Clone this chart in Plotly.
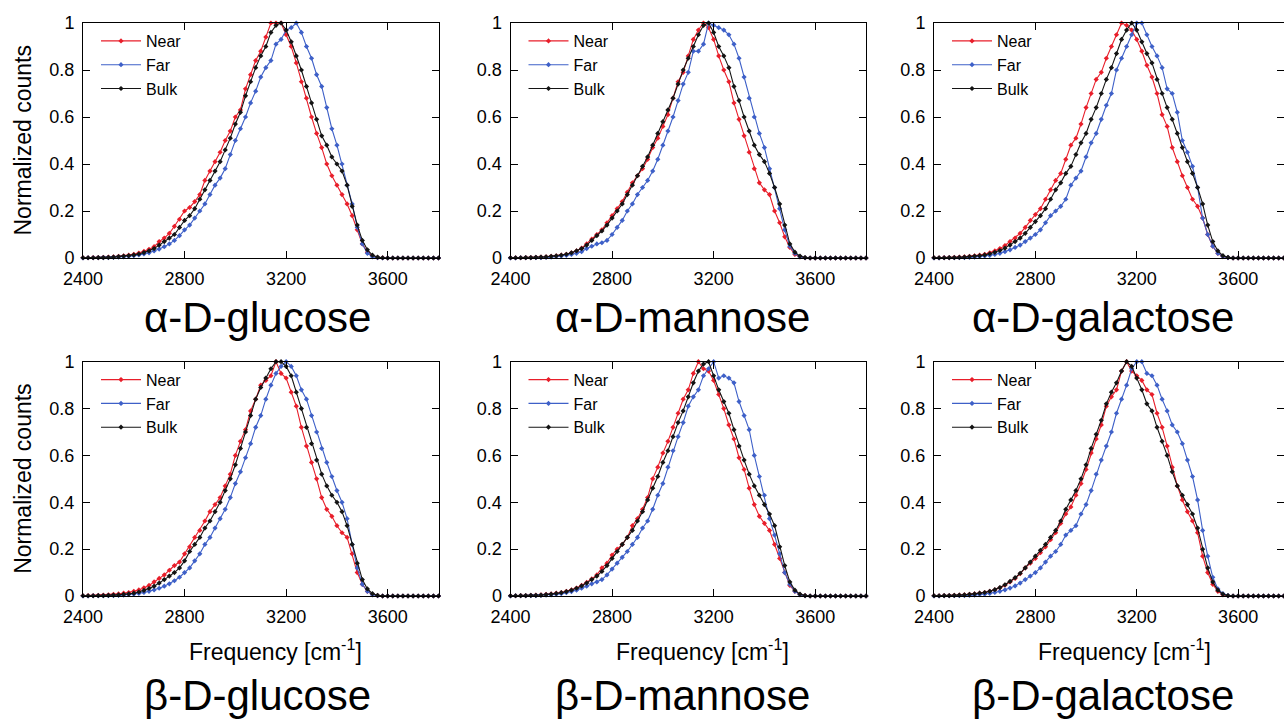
import plotly.graph_objects as go

# ---------------- data ----------------
FREQ = list(range(2400, 3801, 20))  # cm^-1, 71 points

PANEL_TITLES = ["α-D-glucose", "α-D-mannose", "α-D-galactose",
                "β-D-glucose", "β-D-mannose", "β-D-galactose"]
SERIES_NAMES = ["Near", "Far", "Bulk"]
X_TICKS = [2400, 2800, 3200, 3600]
Y_TICKS = [0, 0.2, 0.4, 0.6, 0.8, 1]
Z11 = [0] * 11

NEAR_AGLC = [0.001,0.001,0.002,0.002,0.003,0.004,0.005,0.007,0.009,0.012,
             0.016,0.021,0.028,0.037,0.048,0.07,0.085,0.105,0.135,0.165,
             0.2,0.215,0.24,0.27,0.33,0.37,0.41,0.45,0.5,0.54,
             0.6,0.63,0.72,0.78,0.84,0.88,0.94,1.0,1.0,1.0,
             0.95,0.9,0.83,0.75,0.68,0.6,0.53,0.47,0.4,0.35,
             0.31,0.27,0.23,0.18,0.12,0.06,0.025,0.008,0.002,0.001] + Z11
FAR_AGLC = [0.0,0.001,0.001,0.001,0.002,0.002,0.003,0.004,0.005,0.007,
            0.01,0.013,0.017,0.022,0.03,0.038,0.048,0.06,0.075,0.095,
            0.12,0.14,0.17,0.2,0.23,0.27,0.31,0.34,0.38,0.44,
            0.5,0.55,0.6,0.66,0.71,0.77,0.81,0.84,0.91,0.93,
            0.97,0.98,1.0,0.96,0.9,0.85,0.78,0.73,0.64,0.55,
            0.48,0.4,0.31,0.23,0.13,0.06,0.02,0.005,0.001,0.0] + Z11
BULK_AGLC = [0.001,0.001,0.001,0.002,0.002,0.003,0.004,0.006,0.008,0.01,
             0.013,0.017,0.023,0.03,0.04,0.055,0.07,0.085,0.1,0.13,
             0.16,0.18,0.21,0.25,0.29,0.33,0.37,0.41,0.46,0.51,
             0.57,0.62,0.69,0.75,0.81,0.86,0.9,0.96,0.99,1.0,
             0.97,0.92,0.86,0.8,0.73,0.66,0.59,0.52,0.48,0.43,
             0.4,0.37,0.31,0.22,0.14,0.075,0.035,0.012,0.004,0.001] + Z11

NEAR_AMAN = [0.001,0.001,0.001,0.002,0.002,0.003,0.004,0.005,0.007,0.009,
             0.012,0.016,0.022,0.03,0.042,0.06,0.08,0.1,0.12,0.15,
             0.18,0.21,0.24,0.28,0.32,0.35,0.38,0.42,0.47,0.51,
             0.56,0.61,0.68,0.75,0.79,0.86,0.93,0.97,1.0,0.98,
             0.93,0.86,0.8,0.75,0.66,0.59,0.52,0.45,0.38,0.32,
             0.29,0.27,0.2,0.15,0.09,0.045,0.015,0.005,0.001,0.0] + Z11
FAR_AMAN = [0.0,0.0,0.001,0.001,0.001,0.002,0.002,0.003,0.004,0.006,
            0.008,0.011,0.015,0.02,0.027,0.04,0.05,0.06,0.065,0.075,
            0.1,0.13,0.16,0.2,0.23,0.27,0.3,0.33,0.37,0.42,
            0.48,0.54,0.6,0.67,0.74,0.79,0.88,0.88,0.91,1.0,
            0.99,0.98,0.97,0.95,0.91,0.85,0.77,0.68,0.6,0.53,
            0.47,0.38,0.3,0.21,0.12,0.05,0.02,0.005,0.001,0.0] + Z11
BULK_AMAN = [0.001,0.001,0.001,0.002,0.002,0.003,0.004,0.005,0.007,0.009,
             0.012,0.016,0.022,0.03,0.04,0.055,0.075,0.095,0.115,0.14,
             0.17,0.2,0.23,0.27,0.31,0.35,0.39,0.43,0.48,0.53,
             0.58,0.63,0.68,0.74,0.8,0.85,0.9,0.95,0.99,1.0,
             0.96,0.9,0.86,0.81,0.73,0.67,0.6,0.54,0.48,0.44,
             0.41,0.36,0.3,0.23,0.14,0.06,0.025,0.008,0.002,0.0] + Z11

NEAR_AGAL = [0.001,0.001,0.002,0.002,0.003,0.004,0.005,0.007,0.009,0.012,
             0.016,0.022,0.03,0.04,0.053,0.07,0.085,0.105,0.13,0.16,
             0.185,0.21,0.25,0.29,0.33,0.36,0.42,0.48,0.51,0.57,
             0.64,0.7,0.76,0.79,0.85,0.9,0.95,1.0,0.99,0.97,
             0.93,0.88,0.82,0.77,0.7,0.61,0.56,0.47,0.41,0.35,
             0.3,0.25,0.22,0.17,0.1,0.05,0.02,0.006,0.002,0.0] + Z11
FAR_AGAL = [0.0,0.0,0.001,0.001,0.001,0.002,0.002,0.003,0.004,0.006,
            0.008,0.011,0.015,0.02,0.027,0.035,0.045,0.055,0.07,0.085,
            0.1,0.12,0.15,0.18,0.2,0.22,0.25,0.31,0.34,0.37,
            0.43,0.49,0.53,0.59,0.65,0.7,0.8,0.85,0.9,0.95,
            1.0,1.0,0.95,0.9,0.86,0.81,0.72,0.7,0.62,0.5,
            0.45,0.39,0.3,0.17,0.1,0.05,0.02,0.006,0.002,0.0] + Z11
BULK_AGAL = [0.001,0.001,0.001,0.002,0.002,0.003,0.004,0.006,0.008,0.01,
             0.013,0.018,0.024,0.032,0.042,0.055,0.07,0.085,0.105,0.13,
             0.155,0.18,0.21,0.25,0.29,0.32,0.36,0.39,0.44,0.49,
             0.53,0.59,0.64,0.7,0.76,0.81,0.87,0.93,0.97,1.0,
             0.97,0.92,0.87,0.83,0.76,0.7,0.64,0.59,0.53,0.47,
             0.41,0.36,0.3,0.23,0.14,0.07,0.03,0.01,0.003,0.0] + Z11

NEAR_BGLC = [0.001,0.002,0.002,0.003,0.004,0.005,0.007,0.009,0.012,0.015,
             0.02,0.026,0.035,0.045,0.06,0.075,0.09,0.11,0.13,0.145,
             0.18,0.21,0.25,0.28,0.32,0.36,0.39,0.42,0.47,0.52,
             0.6,0.66,0.71,0.79,0.84,0.9,0.92,0.94,1.0,0.95,
             0.93,0.87,0.81,0.72,0.64,0.57,0.5,0.42,0.37,0.34,
             0.3,0.27,0.25,0.18,0.1,0.05,0.02,0.006,0.002,0.0] + Z11
FAR_BGLC = [0.0,0.0,0.001,0.001,0.001,0.002,0.002,0.003,0.004,0.006,
            0.008,0.011,0.015,0.02,0.026,0.033,0.042,0.052,0.065,0.08,
            0.1,0.12,0.15,0.18,0.22,0.25,0.29,0.33,0.37,0.42,
            0.48,0.53,0.59,0.65,0.72,0.77,0.84,0.9,0.95,0.98,
            1.0,0.98,0.94,0.88,0.84,0.77,0.7,0.63,0.57,0.51,
            0.45,0.4,0.33,0.22,0.12,0.05,0.02,0.005,0.001,0.0] + Z11
BULK_BGLC = [0.001,0.001,0.001,0.002,0.002,0.003,0.004,0.005,0.007,0.009,
             0.012,0.017,0.024,0.032,0.042,0.055,0.07,0.085,0.1,0.12,
             0.15,0.19,0.22,0.25,0.29,0.32,0.36,0.4,0.45,0.5,
             0.56,0.63,0.7,0.77,0.84,0.89,0.93,0.97,1.0,1.0,
             0.98,0.94,0.87,0.8,0.72,0.65,0.58,0.52,0.47,0.43,
             0.4,0.36,0.3,0.22,0.14,0.07,0.03,0.01,0.003,0.0] + Z11

NEAR_BMAN = [0.001,0.001,0.002,0.002,0.003,0.004,0.005,0.007,0.009,0.012,
             0.015,0.02,0.026,0.034,0.045,0.058,0.073,0.09,0.12,0.14,
             0.175,0.2,0.22,0.25,0.3,0.33,0.37,0.42,0.5,0.55,
             0.61,0.66,0.72,0.78,0.84,0.88,0.95,1.0,0.97,0.96,
             0.92,0.86,0.8,0.73,0.67,0.59,0.54,0.46,0.39,0.34,
             0.31,0.28,0.22,0.16,0.1,0.045,0.02,0.006,0.002,0.0] + Z11
FAR_BMAN = [0.0,0.001,0.001,0.001,0.002,0.002,0.003,0.004,0.005,0.007,
            0.01,0.014,0.019,0.025,0.033,0.042,0.052,0.06,0.07,0.09,
            0.115,0.14,0.165,0.19,0.22,0.25,0.29,0.32,0.37,0.43,
            0.48,0.55,0.62,0.68,0.74,0.81,0.85,0.88,0.94,0.97,
            1.0,0.93,0.94,0.93,0.91,0.83,0.77,0.71,0.6,0.51,
            0.43,0.33,0.26,0.18,0.1,0.05,0.02,0.005,0.001,0.0] + Z11
BULK_BMAN = [0.001,0.001,0.002,0.002,0.003,0.003,0.004,0.006,0.008,0.011,
             0.014,0.019,0.025,0.033,0.043,0.055,0.07,0.085,0.105,0.13,
             0.16,0.19,0.22,0.25,0.28,0.32,0.36,0.41,0.46,0.51,
             0.57,0.62,0.68,0.74,0.79,0.85,0.91,0.96,0.99,1.0,
             0.94,0.88,0.83,0.78,0.71,0.64,0.58,0.52,0.47,0.43,
             0.39,0.35,0.3,0.21,0.13,0.06,0.025,0.008,0.002,0.0] + Z11

NEAR_BGAL = [0.001,0.001,0.002,0.002,0.003,0.004,0.005,0.007,0.009,0.012,
             0.015,0.02,0.026,0.035,0.046,0.06,0.075,0.095,0.12,0.14,
             0.16,0.185,0.21,0.24,0.27,0.31,0.35,0.38,0.43,0.48,
             0.54,0.61,0.67,0.73,0.81,0.85,0.88,0.96,1.0,0.96,
             0.94,0.92,0.88,0.86,0.78,0.72,0.64,0.55,0.47,0.41,
             0.36,0.32,0.27,0.17,0.1,0.05,0.02,0.005,0.001,0.0] + Z11
FAR_BGAL = [0.0,0.0,0.001,0.001,0.001,0.002,0.002,0.003,0.004,0.006,
            0.008,0.011,0.015,0.02,0.026,0.034,0.043,0.055,0.07,0.085,
            0.1,0.12,0.145,0.17,0.19,0.22,0.26,0.28,0.3,0.35,
            0.39,0.45,0.52,0.58,0.64,0.7,0.78,0.84,0.9,0.97,
            1.0,1.0,0.95,0.94,0.9,0.84,0.79,0.73,0.7,0.65,
            0.58,0.51,0.41,0.28,0.17,0.08,0.03,0.01,0.002,0.0] + Z11
BULK_BGAL = [0.001,0.001,0.002,0.002,0.003,0.004,0.005,0.007,0.009,0.012,
             0.015,0.02,0.027,0.036,0.048,0.062,0.078,0.097,0.12,0.145,
             0.17,0.195,0.22,0.25,0.28,0.32,0.37,0.41,0.45,0.5,
             0.56,0.63,0.69,0.75,0.82,0.87,0.91,0.96,1.0,0.98,
             0.93,0.88,0.82,0.79,0.72,0.66,0.6,0.53,0.47,0.43,
             0.39,0.35,0.29,0.2,0.12,0.06,0.025,0.008,0.002,0.0] + Z11

PANEL_DATA = [
    (NEAR_AGLC, FAR_AGLC, BULK_AGLC),
    (NEAR_AMAN, FAR_AMAN, BULK_AMAN),
    (NEAR_AGAL, FAR_AGAL, BULK_AGAL),
    (NEAR_BGLC, FAR_BGLC, BULK_BGLC),
    (NEAR_BMAN, FAR_BMAN, BULK_BMAN),
    (NEAR_BGAL, FAR_BGAL, BULK_BGAL),
]

# ---------------- styling / layout ----------------
W, H = 1284, 720
FONT = "Liberation Sans, Arial, Helvetica, sans-serif"
COLORS = ["rgb(232,30,42)", "rgb(62,96,200)", "rgb(20,20,20)"]

COLS = [(83, 438.5, 3800), (510.5, 866, 3800), (934, 1284, 3781)]  # px left, px right, x max
ROWS = [(23, 258), (361.7, 596)]  # px top, px bottom
TITLE_X = [257, 682, 1103]
TITLE_Y = [317, 695]
FREQ_X = [275, 702, 1124]

fig = go.Figure()
layout = dict(
    template="none",
    width=W, height=H, margin=dict(l=0, r=0, t=0, b=0, pad=0), autosize=False,
    paper_bgcolor="white", plot_bgcolor="white",
    font=dict(family=FONT, color="black", size=17),
    showlegend=True,
)
annotations = []

for k, (title, data) in enumerate(zip(PANEL_TITLES, PANEL_DATA)):
    r, c = divmod(k, 3)
    xl, xr, xmax = COLS[c]
    yt, yb = ROWS[r]
    sfx = "" if k == 0 else str(k + 1)
    leg = "legend" + sfx
    for name, vals, col in zip(SERIES_NAMES, data, COLORS):
        fig.add_trace(go.Scatter(
            x=FREQ, y=vals, name=name, mode="lines+markers",
            line=dict(color=col, width=1.1),
            marker=dict(color=col, size=4, symbol="diamond"),
            xaxis="x" + sfx, yaxis="y" + sfx, legend=leg,
            cliponaxis=False, showlegend=True,
        ))
    axcommon = dict(showline=True, linecolor="black", linewidth=1, mirror="allticks",
                    ticks="inside", ticklen=7, tickwidth=1, tickcolor="black",
                    showgrid=False, zeroline=False, automargin=False,
                    tickfont=dict(family=FONT, size=18, color="black"))
    layout["xaxis" + sfx] = dict(axcommon, domain=[xl / W, xr / W], range=[2400, xmax],
                                 tickvals=X_TICKS, anchor="y" + sfx, ticklabelstandoff=4)
    layout["yaxis" + sfx] = dict(axcommon, domain=[1 - yb / H, 1 - yt / H], range=[0, 1],
                                 tickvals=Y_TICKS, anchor="x" + sfx, ticklabelstandoff=4)
    layout[leg] = dict(x=(xl + 13) / W, y=1 - (yt + 1) / H, xanchor="left", yanchor="top",
                       bgcolor="rgba(0,0,0,0)", font=dict(family=FONT, size=16),
                       itemwidth=40, tracegroupgap=0)
    annotations.append(dict(text=title, x=TITLE_X[c] / W, y=1 - TITLE_Y[r] / H,
                            xref="paper", yref="paper",
                            xanchor="center", yanchor="middle", showarrow=False,
                            font=dict(family=FONT, size=42, color="black")))
    if c == 0:
        annotations.append(dict(text="Normalized counts", x=23 / W, y=1 - (yt + yb) / 2 / H,
                                xref="paper", yref="paper", textangle=-90,
                                xanchor="center", yanchor="middle", showarrow=False,
                                font=dict(family=FONT, size=23, color="black")))
    if r == 1:
        annotations.append(dict(text="Frequency [cm<sup>-1</sup>]", x=FREQ_X[c] / W, y=1 - 650 / H,
                                xref="paper", yref="paper", xanchor="center", yanchor="middle",
                                showarrow=False, font=dict(family=FONT, size=23, color="black")))

layout["annotations"] = annotations
fig.update_layout(**layout)
fig.write_html("out.html", config={"displayModeBar": False},
               post_script="document.body.style.margin='0px';document.body.style.overflow='hidden';")
